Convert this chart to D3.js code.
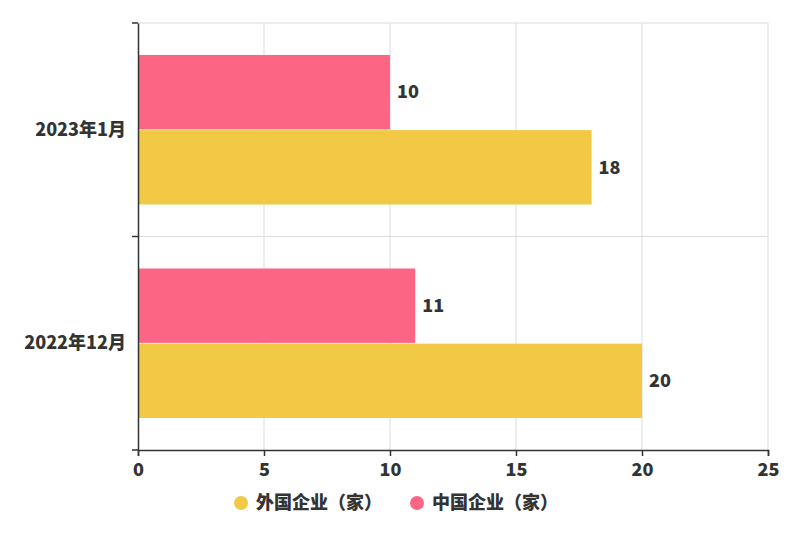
<!DOCTYPE html>
<html><head><meta charset="utf-8">
<script src="https://cdn.jsdelivr.net/npm/d3@7"></script>
<style>body{margin:0;background:#fff}svg{display:block;font-family:"Noto Sans CJK SC","Noto Sans",sans-serif}</style>
</head><body><svg id="c" width="800" height="533"></svg>
<script>
const categories = ["2023年1月", "2022年12月"];
const seriesNames = ["中国企业（家）", "外国企业（家）"];
const chinaValues = [10, 11];
const foreignValues = [18, 20];
const xTicks = [0, 5, 10, 15, 20, 25];
const colors = {"中国企业（家）": "#fd6584", "外国企业（家）": "#f2c944"};
const legendOrder = ["外国企业（家）", "中国企业（家）"];

const FS = 18, FW = 900, FF = "\"Noto Sans CJK SC\",sans-serif";
const svg = d3.select("#c");
const m = {l: 138, r: 768, t: 23, b: 450};
const x = d3.scaleLinear().domain([0, 25]).range([m.l, m.r]);
const y = d3.scaleBand().domain(categories).range([m.t, m.b]).paddingInner(0).paddingOuter(0);
const inner = d3.scaleBand().domain(seriesNames).range([32, y.bandwidth() - 32]).paddingInner(0.01);

// grid
svg.append("g").selectAll("line").data(xTicks.slice(1)).join("line")
  .attr("x1", d => x(d)).attr("x2", d => x(d)).attr("y1", m.t).attr("y2", m.b)
  .attr("stroke", "#dcdcdc").attr("stroke-width", 1);
svg.append("g").selectAll("line").data(categories).join("line")
  .attr("x1", m.l).attr("x2", m.r).attr("y1", d => y(d)).attr("y2", d => y(d))
  .attr("stroke", "#dcdcdc").attr("stroke-width", 1);

const data = categories.map((c, i) => ({cat: c, vals: [
  {s: seriesNames[0], v: chinaValues[i]}, {s: seriesNames[1], v: foreignValues[i]}]}));

const g = svg.append("g").selectAll("g").data(data).join("g")
  .attr("transform", d => `translate(0,${y(d.cat)})`);
g.selectAll("rect").data(d => d.vals).join("rect")
  .attr("x", x(0)).attr("y", d => inner(d.s)).attr("width", d => x(d.v) - x(0))
  .attr("height", inner.bandwidth()).attr("fill", d => colors[d.s]);
g.selectAll("text").data(d => d.vals).join("text")
  .attr("x", d => x(d.v) + 7).attr("y", d => inner(d.s) + inner.bandwidth() / 2)
  .attr("dy", "0.35em").attr("font-size", FS).attr("font-weight", FW).attr("fill", "#333")
  .text(d => d.v);

// axes
const xa = svg.append("g").attr("transform", `translate(0,${m.b})`)
  .call(d3.axisBottom(x).tickValues(xTicks).tickSize(6).tickPadding(7));
xa.select(".domain").attr("stroke", "#333").attr("stroke-width", 1.5);
xa.selectAll(".tick line").attr("stroke", "#333").attr("stroke-width", 1.5);
xa.selectAll("text").attr("font-size", FS).attr("font-weight", FW).attr("fill", "#333")
  .attr("font-family", FF);

const ya = svg.append("g").attr("transform", `translate(${m.l},0)`)
  .call(d3.axisLeft(y).tickSize(0).tickPadding(12));
ya.select(".domain").attr("stroke", "#333").attr("stroke-width", 1.5);
ya.selectAll("text").attr("font-size", FS).attr("font-weight", FW).attr("fill", "#333")
  .attr("font-family", FF);
ya.append("g").selectAll("line").data([m.t, y(categories[1]), m.b]).join("line")
  .attr("x1", -6).attr("x2", 0).attr("y1", d => d).attr("y2", d => d)
  .attr("stroke", "#333").attr("stroke-width", 1.5);

// legend
const lg = svg.append("g");
const lx = [241, 417];
legendOrder.forEach((s, i) => {
  lg.append("circle").attr("cx", lx[i]).attr("cy", 503).attr("r", 7).attr("fill", colors[s]);
  lg.append("text").attr("x", lx[i] + 15).attr("y", 503).attr("dy", "0.35em")
    .attr("font-size", FS).attr("font-weight", FW).attr("fill", "#333").text(s);
});
</script></body></html>
